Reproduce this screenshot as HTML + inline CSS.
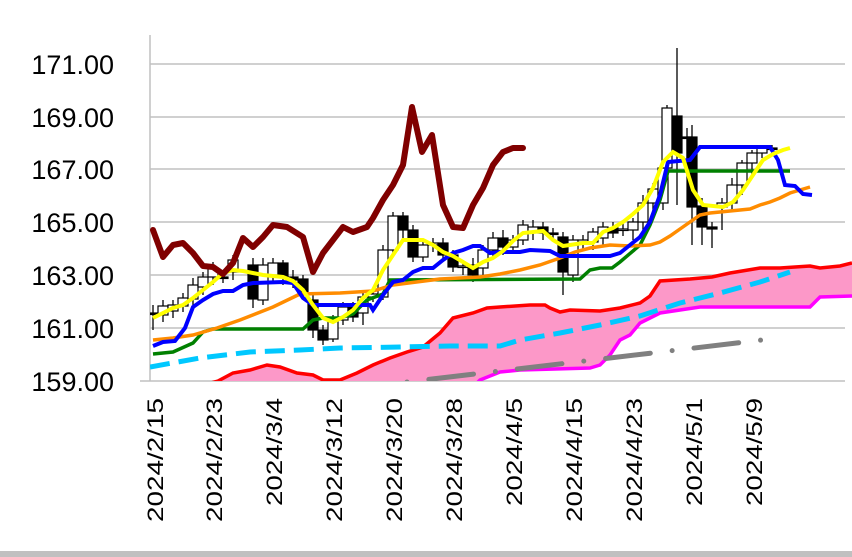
<!DOCTYPE html>
<html><head><meta charset="utf-8"><style>
html,body{margin:0;padding:0;background:#fff;}
svg{display:block;}
</style></head><body>
<svg id="s" width="852" height="557" xmlns="http://www.w3.org/2000/svg" font-family="Liberation Sans, sans-serif">
<defs><clipPath id="c"><rect x="150" y="30" width="702" height="351"/></clipPath></defs>
<g stroke="#c0c0c0" stroke-width="1.5">
<line x1="150" y1="64" x2="845" y2="64"/><line x1="150" y1="117" x2="845" y2="117"/>
<line x1="150" y1="169" x2="845" y2="169"/><line x1="150" y1="222" x2="845" y2="222"/>
<line x1="150" y1="275" x2="845" y2="275"/><line x1="150" y1="328" x2="845" y2="328"/>
<line x1="140" y1="381" x2="845" y2="381"/><line x1="150" y1="35" x2="150" y2="381"/>
</g>
<rect x="0" y="551" width="852" height="6" fill="#c0c0c0"/>
<g font-size="27" text-anchor="end" fill="#000">
<text x="114" y="74">171.00</text><text x="114" y="127">169.00</text><text x="114" y="179">167.00</text>
<text x="114" y="232">165.00</text><text x="114" y="285">163.00</text><text x="114" y="338">161.00</text>
<text x="114" y="391">159.00</text>
</g>
<g font-size="22" text-anchor="end" fill="#000">
<text transform="translate(163,398) rotate(-90)" textLength="124" lengthAdjust="spacingAndGlyphs">2024/2/15</text>
<text transform="translate(222,398) rotate(-90)" textLength="124" lengthAdjust="spacingAndGlyphs">2024/2/23</text>
<text transform="translate(282,398) rotate(-90)" textLength="108" lengthAdjust="spacingAndGlyphs">2024/3/4</text>
<text transform="translate(342,398) rotate(-90)" textLength="124" lengthAdjust="spacingAndGlyphs">2024/3/12</text>
<text transform="translate(402,398) rotate(-90)" textLength="124" lengthAdjust="spacingAndGlyphs">2024/3/20</text>
<text transform="translate(462,398) rotate(-90)" textLength="124" lengthAdjust="spacingAndGlyphs">2024/3/28</text>
<text transform="translate(522,398) rotate(-90)" textLength="108" lengthAdjust="spacingAndGlyphs">2024/4/5</text>
<text transform="translate(582,398) rotate(-90)" textLength="124" lengthAdjust="spacingAndGlyphs">2024/4/15</text>
<text transform="translate(642,398) rotate(-90)" textLength="124" lengthAdjust="spacingAndGlyphs">2024/4/23</text>
<text transform="translate(702,398) rotate(-90)" textLength="108" lengthAdjust="spacingAndGlyphs">2024/5/1</text>
<text transform="translate(762,398) rotate(-90)" textLength="108" lengthAdjust="spacingAndGlyphs">2024/5/9</text>
</g>
<g id="plot" clip-path="url(#c)"></g>
</svg>
<script>
const NS="http://www.w3.org/2000/svg",P=document.getElementById('plot');
function el(t,a){const e=document.createElementNS(NS,t);for(const k in a)e.setAttribute(k,a[k]);P.appendChild(e);return e;}
function pts(a){return a.map(p=>p.join(',')).join(' ');}
const red=[[150,400],[218,381],[233,373],[250,370],[267,365],[280,367],[297,373],[313,375],[323,380],[340,380],[357,373],[373,365],[390,358],[407,352],[423,347],[440,333],[453,318],[473,313],[487,308],[500,307],[530,305],[545,305],[550,308],[560,312],[570,310],[600,311],[620,308],[640,303],[650,296],[660,281],[690,279],[712,277],[730,273],[760,268],[780,268],[810,266],[820,268],[840,266],[852,263]];
const mag=[[150,420],[470,390],[480,380],[500,372],[520,370],[590,368],[600,365],[610,355],[620,340],[630,335],[640,323],[650,318],[660,313],[700,307],[810,307],[820,297],[852,296]];
el('polygon',{points:pts(red.concat(mag.slice().reverse())),fill:'#fc98c8',stroke:'none'});
el('polyline',{points:pts(mag),fill:'none',stroke:'#ff00ff','stroke-width':3.5});
el('polyline',{points:pts(red),fill:'none',stroke:'#ff0000','stroke-width':3.5});
el('polyline',{points:'407,382 779,338',fill:'none',stroke:'#808080','stroke-width':5,'stroke-linecap':'round','stroke-dasharray':'0 22 45 22'});
const C=[[153,313,313,305,330],[163,315,306,300,322],[173,311,305,300,318],[183,306,298,293,312],[193,299,285,278,305],[203,287,277,272,295],[213,277,268,262,285],[223,277,278,270,283],[233,272,260,255,280],[253,265,299,258,308],[263,300,265,258,305],[273,275,263,258,282],[283,263,277,260,285],[293,277,280,270,288],[303,279,293,275,300],[313,300,330,295,338],[323,330,340,325,345],[333,339,320,315,342],[343,320,307,302,325],[353,307,317,302,322],[363,313,297,290,325],[373,297,294,288,302],[383,297,250,245,300],[393,250,216,212,255],[403,216,230,212,240],[413,230,257,225,262],[423,257,245,240,262],[433,245,243,238,252],[443,243,255,238,262],[453,255,267,250,272],[463,267,266,260,275],[473,265,275,258,282],[483,268,250,245,275],[493,250,238,232,258],[503,238,247,230,255],[513,247,240,235,250],[523,240,225,220,245],[533,232,227,220,240],[543,227,233,222,240],[553,233,234,228,240],[563,237,272,232,295],[573,275,240,235,282],[583,242,240,235,250],[593,242,232,228,250],[603,238,227,222,245],[613,228,233,222,238],[623,230,229,222,236],[633,230,222,218,240],[643,222,203,195,232],[653,203,189,183,215],[663,203,168,165,210],[667,168,108,105,170],[677,116,153,48,205],[687,137,137,128,165],[692,137,207,125,245],[702,206,227,198,245],[712,227,229,222,248],[722,207,203,198,230],[732,203,185,178,210],[742,185,163,160,195],[752,163,153,150,178],[762,153,148,145,158],[772,148,148,145,152]];
C.forEach((c,i)=>{const [x,o,cl,h,l]=c;el('line',{x1:x,y1:h,x2:x,y2:l,stroke:'#000','stroke-width':1.3});
const t=Math.min(o,cl),b=Math.max(o,cl);el('rect',{x:x-5,y:t,width:10,height:Math.max(b-t,1.5),fill:cl<o?'#fff':'#000',stroke:'#000','stroke-width':1.2});});
el('polyline',{points:'150,367 200,358 250,352 300,350 340,348 400,347 450,346 500,346 520,340 560,333 600,325 640,316 680,303 720,293 760,282 790,272',fill:'none',stroke:'#00c8ff','stroke-width':5,'stroke-dasharray':'20 9'});
el('polyline',{points:'153,354 173,352 193,343 203,332 213,329 303,329 313,320 323,318 340,318 353,314 367,300 383,294 390,280 580,279 590,270 600,268 612,268 620,262 640,245 650,225 660,200 668,171 790,171',fill:'none',stroke:'#008000','stroke-width':3.5});
el('polyline',{points:'153,340 173,338 193,335 217,328 240,320 273,307 300,294 340,293 373,291 393,285 440,279 480,277 500,274 520,270 540,265 560,258 575,252 590,248 610,245 630,246 650,245 660,242 670,236 680,229 690,222 700,215 710,213 730,211 750,209 760,205 770,202 780,198 790,193 800,190 810,187',fill:'none',stroke:'#ff8c00','stroke-width':3.5});
el('polyline',{points:'153,346 163,342 175,341 185,328 193,307 203,300 213,294 223,291 233,291 243,285 253,283 283,282 293,283 303,298 313,305 370,305 373,310 383,295 393,282 403,280 413,272 423,268 433,268 443,260 453,253 463,250 473,246 480,246 490,253 500,252 520,252 530,250 550,251 560,256 610,256 620,253 630,245 640,237 650,222 660,195 668,162 690,160 700,147 770,147 778,160 785,185 795,186 803,194 812,195',fill:'none',stroke:'#0000ff','stroke-width':4});
el('polyline',{points:'153,318 163,313 173,308 183,305 193,298 203,290 213,282 223,273 233,270 243,271 263,275 283,277 293,281 303,290 313,305 323,318 333,322 343,317 353,310 363,298 373,290 383,270 393,255 403,240 413,240 423,240 433,245 443,252 453,256 463,262 473,268 483,262 493,258 503,251 513,241 523,233 543,231 553,240 563,246 583,243 593,243 603,232 613,228 623,222 633,214 643,205 653,188 663,162 673,152 683,158 693,190 703,205 723,207 733,202 743,190 753,175 763,160 773,154 783,150 790,148',fill:'none',stroke:'#ffff00','stroke-width':4});
el('polyline',{points:'153,230 163,257 173,245 183,243 193,253 203,266 213,267 223,274 233,263 243,238 253,247 263,237 273,225 287,227 303,237 313,272 323,253 343,227 353,232 367,227 373,218 383,200 393,185 403,165 412,107 422,152 432,135 443,205 453,227 463,228 473,205 483,188 493,165 503,152 513,148 523,148',fill:'none',stroke:'#800000','stroke-width':6,'stroke-linecap':'round','stroke-linejoin':'round'});
</script>
</body></html>
